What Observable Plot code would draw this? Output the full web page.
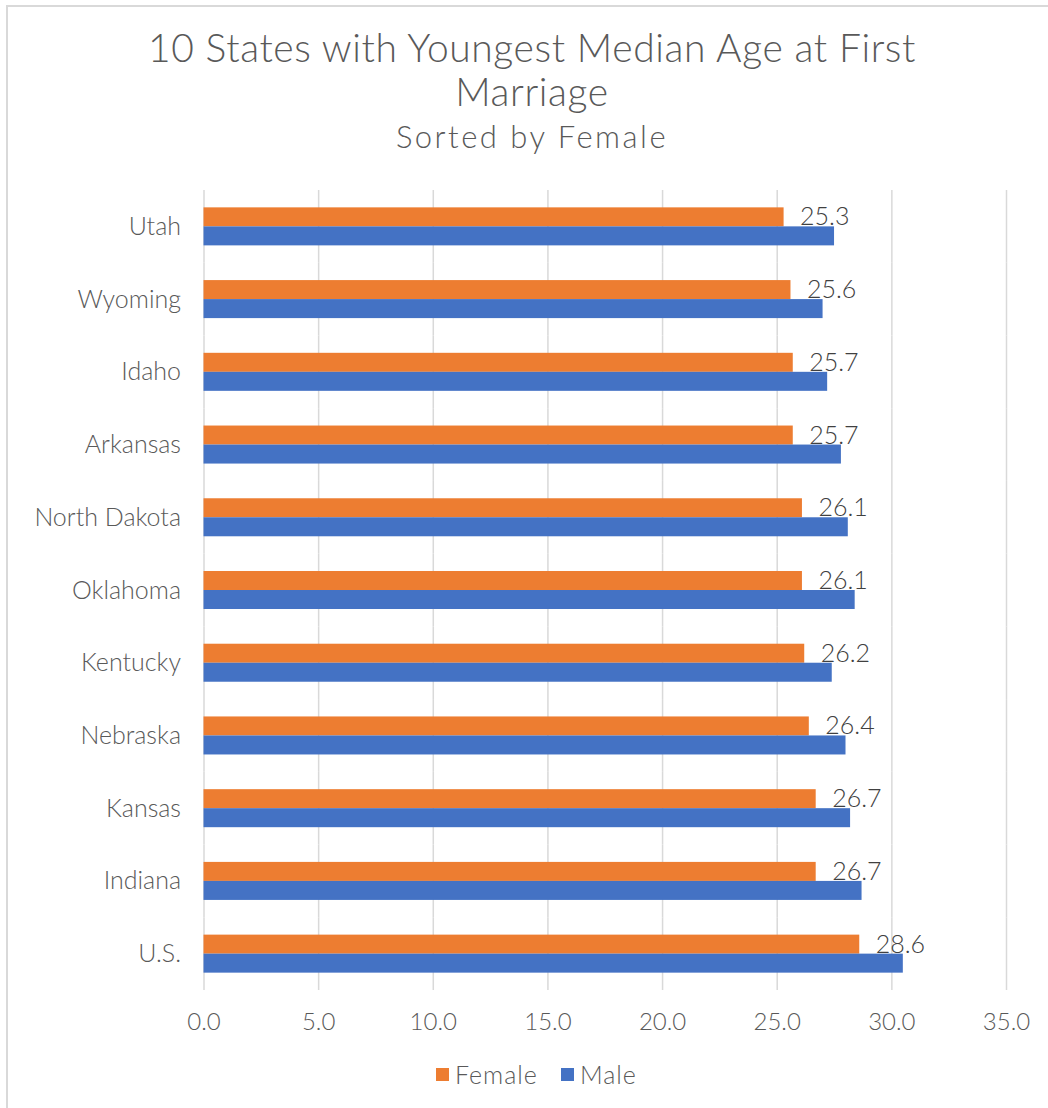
<!DOCTYPE html>
<html><head><meta charset="utf-8">
<script src="https://cdn.jsdelivr.net/npm/d3@7"></script>
<script src="https://cdn.jsdelivr.net/npm/@observablehq/plot@0.6"></script>
<style>
html,body{margin:0;padding:0;background:#fff;}
body{width:1048px;height:1108px;position:relative;overflow:hidden;font-family:Lato,"Open Sans",sans-serif;color:#595959;font-weight:300;}
#frame{position:absolute;left:6px;top:5px;width:1200px;height:1300px;border-left:2px solid #d9d9d9;border-top:2px solid #d9d9d9;box-sizing:border-box;}
.t1{position:absolute;left:0;width:1064px;text-align:center;font-size:39px;letter-spacing:0.6px;line-height:44px;top:25px;white-space:nowrap;}
.t2{position:absolute;left:0;width:1064px;text-align:center;font-size:31px;letter-spacing:2.5px;line-height:36px;top:118px;white-space:nowrap;}
#chart{position:absolute;left:0;top:160px;}
#legend{position:absolute;left:436px;top:1062px;height:25px;display:flex;align-items:center;font-size:25px;letter-spacing:1px;line-height:25px;}
.sw{width:13px;height:13px;display:inline-block;margin-right:6px;}
.item{display:flex;align-items:center;margin-right:23px;}
</style>
</head><body>
<div id="frame"></div>
<div class="t1">10 States with Youngest Median Age at First<br>Marriage</div>
<div class="t2">Sorted by Female</div>
<div id="chart"></div>
<div id="legend"></div>
<script>
const states = ["Utah","Wyoming","Idaho","Arkansas","North Dakota","Oklahoma","Kentucky","Nebraska","Kansas","Indiana","U.S."];
const female = [25.3,25.6,25.7,25.7,26.1,26.1,26.2,26.4,26.7,26.7,28.6];
const male = [27.5,27.0,27.2,27.8,28.1,28.4,27.4,28.0,28.2,28.7,30.5];
const series = ["Female","Male"];
const colors = ["#ED7D31","#4472C4"];
const xTicks = [0,5,10,15,20,25,30,35];

const rows = [];
states.forEach((s,i)=>{
  rows.push({state:s, sex:"Female", value:female[i]});
  rows.push({state:s, sex:"Male", value:male[i]});
});
const femaleRows = rows.filter(d=>d.sex==="Female");

const chart = Plot.plot({
  width:1048,
  height:880,
  marginTop:30,
  marginBottom:50,
  marginLeft:203.5,
  marginRight:42,
  style:{fontFamily:"Lato, 'Open Sans', sans-serif", fontWeight:300, background:"transparent"},
  x:{domain:[0,35], ticks:xTicks},
  fy:{domain:states, padding:0, round:false, axis:null},
  y:{domain:series, paddingInner:0, paddingOuter:0.913, round:false, axis:null},
  color:{domain:series, range:colors},
  marks:[
    Plot.gridX(xTicks,{stroke:"#d9d9d9", strokeOpacity:1, strokeWidth:1.5}),
    Plot.barX(rows,{fy:"state", y:"sex", x:"value", fill:"sex"}),
    Plot.text(femaleRows,{fy:"state", y:"sex", x:"value", text:d=>d.value.toFixed(1), dx:16, textAnchor:"start", fontSize:25, fill:"#404040", letterSpacing:"0.5px"}),
    Plot.axisFy({anchor:"left", tickSize:0, tickPadding:23, fontSize:25, fill:"#595959", label:null, letterSpacing:"1px"}),
    Plot.axisX(xTicks,{tickSize:0, tickPadding:22, fontSize:24, fill:"#595959", tickFormat:d3.format(".1f"), label:null})
  ]
});
document.getElementById("chart").appendChild(chart);

const leg = document.getElementById("legend");
series.forEach((s,i)=>{
  const it = document.createElement("div");
  it.className="item";
  const sw = document.createElement("span");
  sw.className="sw"; sw.style.background=colors[i];
  const tx = document.createElement("span");
  tx.textContent = s;
  it.appendChild(sw); it.appendChild(tx);
  leg.appendChild(it);
});
</script>
</body></html>
